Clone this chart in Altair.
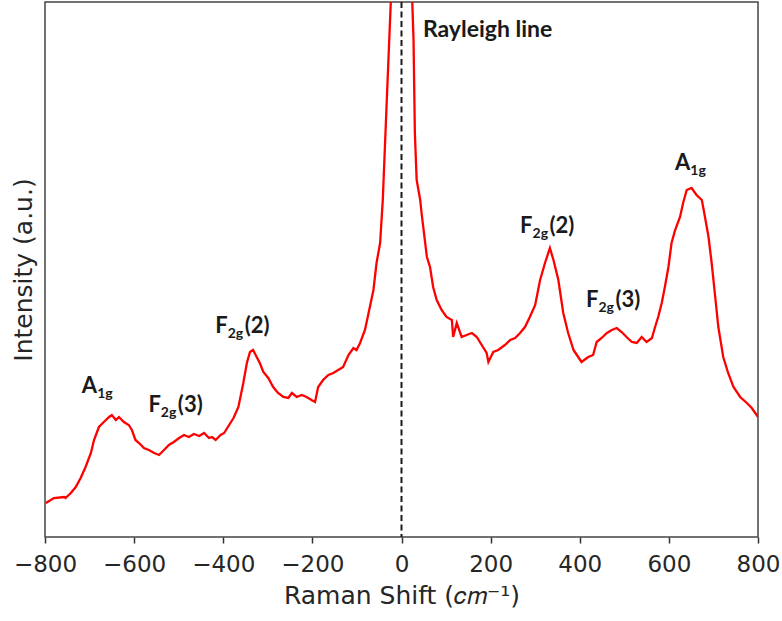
import altair as alt
import pandas as pd

# Raman spectrum (arbitrary intensity units)
shift = [
    -798, -780, -757, -754, -742, -731, -720, -709, -697, -690, -679, -668, -656, -650,
    -641, -634, -623, -612, -605, -597, -589, -578, -567, -555, -544, -533, -522, -511,
    -499, -488, -477, -466, -454, -443, -432, -425, -417, -406, -398, -377, -366, -355,
    -347, -340, -333, -325, -318, -310, -299, -288, -277, -265, -254, -246, -235, -224,
    -213, -202, -194, -187, -176, -164, -153, -142, -131, -119, -108, -101, -93, -82,
    -71, -63, -56, -48, -42, -33, -24, -12, 0, 12,
    24, 27, 30, 34, 42, 45, 57, 64, 71, 79, 90, 101, 113, 116, 124, 135, 146, 158,
    169, 180, 191, 195, 206, 217, 232, 244, 255, 266, 277, 288, 300, 311, 322, 333,
    341, 352, 363, 374, 386, 389, 404, 419, 430, 438, 449, 461, 472, 483, 494, 505,
    517, 528, 539, 550, 562, 569, 576, 584, 591, 599, 606, 614, 625, 632, 640, 651,
    662, 674, 681, 689, 696, 704, 711, 722, 733, 745, 760, 775, 786, 797, 800,
]
intensity = [
    34, 39, 40, 39, 44, 50, 59, 70, 84, 97, 110, 115, 120, 122,
    117, 120, 115, 112, 107, 97, 94, 89, 87, 84, 82, 87, 92, 95,
    99, 102, 100, 103, 101, 104, 99, 100, 97, 102, 104, 119, 130, 154,
    174, 185, 187, 180, 174, 165, 159, 150, 144, 140, 139, 144, 140, 142,
    140, 137, 135, 150, 157, 162, 164, 167, 170, 182, 189, 187, 194, 207,
    230, 247, 274, 294, 337, 437, 535, 900, 1400, 900,
    537, 497, 404, 357, 337, 324, 280, 270, 250, 237, 227, 220, 217, 200, 214, 200, 202, 204,
    200, 192, 184, 175, 185, 187, 192, 197, 199, 204, 210, 220, 232, 257, 274, 289,
    277, 257, 224, 204, 187, 185, 175, 180, 182, 195, 199, 204, 207, 209, 205, 200,
    195, 194, 200, 195, 199, 210, 220, 234, 250, 270, 294, 307, 320, 334, 347, 349,
    342, 337, 320, 300, 274, 240, 210, 180, 164, 150, 140, 134, 129, 122, 120,
]

# Peak labels: junction between base letter and subscript
label_x = [-683, -540, -390, 294, 442, 648]
label_y = [144, 125, 204, 304, 230, 367]
label_base = ["A", "F", "F", "F", "F", "A"]
label_sub = ["1g", "2g", "2g", "2g", "2g", "1g"]
label_tail = ["", "(3)", "(2)", "(2)", "(3)", ""]

rayleigh_x = [48]
rayleigh_y = [500]
rayleigh_text = ["Rayleigh line"]

x_ticks = [-800, -600, -400, -200, 0, 200, 400, 600, 800]

spec = pd.DataFrame({"shift": shift, "intensity": intensity})
labels = pd.DataFrame({"x": label_x, "y": label_y, "base": label_base,
                       "sub": label_sub, "tail": label_tail})
ray = pd.DataFrame({"x": rayleigh_x, "y": rayleigh_y, "t": rayleigh_text})
zero = pd.DataFrame({"x": [0]})

xs = alt.Scale(domain=[-800, 800], nice=False, zero=False)
ys = alt.Scale(domain=[0, 535], nice=False, zero=False)

x_axis = alt.Axis(
    title="Raman Shift (𝑐𝑚⁻¹)", values=x_ticks, grid=False,
    labelFont="DejaVu Sans", labelFontSize=23, labelColor="#262626",
    labelOverlap=False, labelFlush=False,
    titleFont="DejaVu Sans", titleFontSize=25, titleFontWeight="normal",
    titleColor="#262626", tickSize=6, tickWidth=1.5, tickColor="#333333",
    domain=False, labelPadding=10, titlePadding=7,
)
y_axis = alt.Axis(
    title="Intensity (a.u.)", ticks=False, labels=False, grid=False, domain=False,
    titleFont="DejaVu Sans", titleFontSize=25, titleFontWeight="normal",
    titleColor="#262626", titlePadding=9,
)

line = alt.Chart(spec).mark_line(color="#ff0000", strokeWidth=2.3, clip=True).encode(
    x=alt.X("shift:Q", scale=xs, axis=x_axis),
    y=alt.Y("intensity:Q", scale=ys, axis=y_axis),
    order="shift:Q",
)

rule = alt.Chart(zero).mark_rule(color="#1a1a1a", strokeWidth=2, strokeDash=[6, 3.5]).encode(
    x=alt.X("x:Q", scale=xs)
)

lab_font = "Lato"
base_t = alt.Chart(labels).mark_text(
    font=lab_font, fontWeight="bold", fontSize=22, align="right", baseline="alphabetic",
    color="#1a1a1a",
).encode(x=alt.X("x:Q", scale=xs), y=alt.Y("y:Q", scale=ys), text="base:N")
sub_t = alt.Chart(labels).mark_text(
    font=lab_font, fontWeight="bold", fontSize=14, align="left", baseline="alphabetic",
    color="#1a1a1a", dy=5,
).encode(x=alt.X("x:Q", scale=xs), y=alt.Y("y:Q", scale=ys), text="sub:N")
tail_t = alt.Chart(labels).mark_text(
    font=lab_font, fontWeight="bold", fontSize=22, align="left", baseline="alphabetic",
    color="#1a1a1a", dx=17,
).encode(x=alt.X("x:Q", scale=xs), y=alt.Y("y:Q", scale=ys), text="tail:N")
ray_t = alt.Chart(ray).mark_text(
    font=lab_font, fontWeight="bold", fontSize=23, align="left", baseline="alphabetic",
    color="#1a1a1a",
).encode(x=alt.X("x:Q", scale=xs), y=alt.Y("y:Q", scale=ys), text="t:N")

chart = alt.layer(line, rule, base_t, sub_t, tail_t, ray_t).properties(
    width=713, height=535,
    autosize=alt.AutoSizeParams(type="none"),
    padding={"left": 45, "top": 2, "right": 24, "bottom": 84},
    background="white",
).configure_view(stroke="#444444", strokeWidth=1.5)

chart.save("out.html", embed_options={"renderer": "svg", "actions": False})
